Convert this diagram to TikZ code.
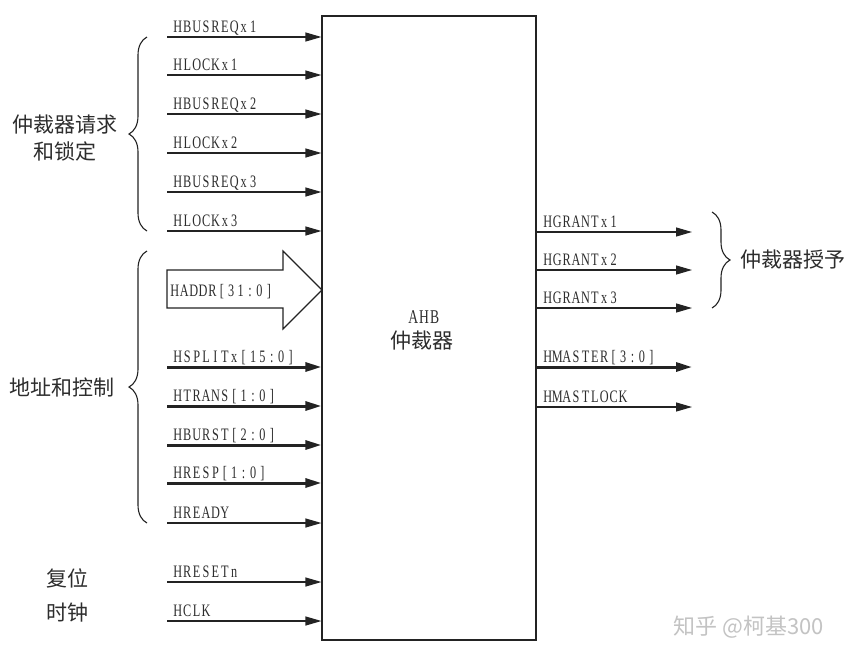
\documentclass[tikz,border=0pt]{standalone}
\usepackage{fontspec}
\setmainfont{Liberation Serif}
\newfontfamily\cjk{Noto Sans CJK SC}
\newfontfamily\labfont[FakeStretch=0.7]{Liberation Serif}
\usetikzlibrary{arrows.meta,decorations.pathreplacing}
\definecolor{ink}{RGB}{35,35,35}
\definecolor{txt}{RGB}{45,45,45}
\definecolor{wm}{RGB}{195,195,195}
\ExplSyntaxOn
\NewDocumentCommand\mono{m}{\tl_map_inline:nn {#1} {\makebox[9.4pt][c]{##1}}}
\ExplSyntaxOff
\begin{document}
\begin{tikzpicture}[x=1pt,y=-1pt,
  sig/.style={draw=ink,-{Triangle[length=16pt,width=9pt]}, line width=1.2pt},
  bus/.style={draw=ink,-{Triangle[length=16pt,width=9pt]}, line width=3pt},
  lab/.style={anchor=base west, inner sep=0pt, text=txt, font=\labfont\fontsize{17.5}{20}\selectfont},
  grp/.style={font=\cjk\fontsize{21}{25}\selectfont, inner sep=0pt, text=txt, align=center},
  brc/.style={draw=ink, decorate, decoration={brace, amplitude=18pt}, line width=1.1pt}]
\useasboundingbox (0,0) rectangle (858,662);
\fill[white] (0,0) rectangle (858,662);

% main block
\node[draw=ink, line width=1.2pt, minimum width=214pt, minimum height=624pt, inner sep=0pt] (box) at (429,328) {};
\node[lab, anchor=base, font=\labfont\fontsize{19.5}{22}\selectfont] (ahb) at (424,323) {\makebox[10.7pt]{A}\makebox[10.7pt]{H}\makebox[10.7pt]{B}};
\node[grp] (arb) at (422,341) {仲裁器};

% left single inputs
\foreach \n/\y/\t in {a/37/HBUSREQx1, b/75/HLOCKx1, c/114/HBUSREQx2, d/153/HLOCKx2, e/192/HBUSREQx3, f/231/HLOCKx3, r/523/HREADY, s/582/HRESETn, k/621/HCLK}{
  \coordinate (i\n) at (167,\y);
  \node[lab] (l\n) at (173,\y-5) {\expandafter\mono\expandafter{\t}};
  \draw[sig] (i\n) -- (i\n -| box.west);
}
% left bus inputs
\foreach \n/\y/\t in {p/367/{HSPLITx[15:0]}, q/406/{HTRANS[1:0]}, u/445/{HBURST[2:0]}, v/483/{HRESP[1:0]}}{
  \coordinate (i\n) at (167,\y);
  \node[lab] (l\n) at (173,\y-5) {\expandafter\mono\expandafter{\t}};
  \draw[bus] (i\n) -- (i\n -| box.west);
}
% HADDR wide arrow
\coordinate (ht) at (322,290);
\draw[draw=ink, line width=1.2pt, fill=white] (167,270) -- (283,270) -- (283,251) -- (ht) -- (283,329) -- (283,308) -- (167,308) -- cycle;
\node[lab] (lh) at (170,296) {\mono{HADDR[31:0]}};

% right outputs
\foreach \n/\y/\t in {g1/232/HGRANTx1, g2/270/HGRANTx2, g3/308/HGRANTx3, ml/407/HMASTLOCK}{
  \coordinate (o\n) at (692,\y);
  \node[lab] (l\n) at (543,\y-5) {\expandafter\mono\expandafter{\t}};
  \draw[sig] (o\n -| box.east) -- (o\n);
}
\coordinate (om) at (692,367);
\node[lab] (lm) at (543,362) {\mono{HMASTER[3:0]}};
\draw[bus] (om -| box.east) -- (om);

% braces
\coordinate (b1s) at (147,231); \coordinate (b1e) at (147,37);
\draw[brc] (b1s) -- (b1e);
\coordinate (b2s) at (147,523); \coordinate (b2e) at (147,251);
\draw[brc] (b2s) -- (b2e);
\coordinate (b3s) at (712,212); \coordinate (b3e) at (712,308);
\draw[brc] (b3s) -- (b3e);

% group labels
\node[grp] (g1) at (65,125) {仲裁器请求};
\node[grp] (g1b) at (65,151) {和锁定};
\node[grp] (g2) at (62,387) {地址和控制};
\node[grp] (g3) at (67,578) {复位};
\node[grp] (g4) at (67,613) {时钟};
\node[grp] (g5) at (793,260) {仲裁器授予};

% watermark
\node[font=\cjk\fontsize{22}{26}\selectfont, text=wm, inner sep=0pt] (wmk) at (749,627) {知乎 @柯基300};
\end{tikzpicture}
\end{document}
